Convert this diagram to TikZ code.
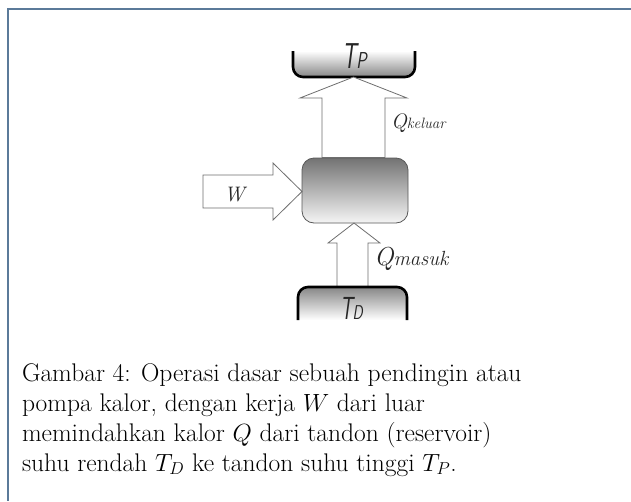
\documentclass[tikz,border=0pt]{standalone}
\usepackage{fontspec}
\definecolor{frameblue}{HTML}{5B7A99}
\definecolor{arrowgray}{HTML}{6E6E6E}
\newcommand{\lblfont}{\rmfamily\itshape}
\begin{document}
\begin{tikzpicture}[x=1pt,y=-1pt,
  frameline/.style={draw=frameblue,line width=1.6pt},
  blockarrow/.style={draw=arrowgray,fill=white,line width=0.8pt,line join=miter},
  reservoirline/.style={draw=black,line width=2.6pt},
  lbl/.style={inner sep=0pt,outer sep=0pt,anchor=base west,text=black!85},
  captext/.style={inner sep=0pt,outer sep=0pt,anchor=base west,font=\fontsize{25.5}{30}\selectfont},
  tlabel/.style={inner sep=0pt,outer sep=0pt,anchor=base west,font=\sffamily\itshape,text=black!85}
]
\useasboundingbox (0,0) rectangle (631,501);
% frame
\coordinate (fTL) at (8,9);
\coordinate (fTR) at (631,9);
\coordinate (fBL) at (8,501);
\draw[frameline] (fTR) -- (fTL) -- (fBL);

% top reservoir T_P
\shade[top color=white,bottom color=gray!95] (293,51) -- (293,67) arc[start angle=180,end angle=90,radius=10] -- (405,77) arc[start angle=90,end angle=0,radius=10] -- (415,51) -- cycle;
\draw[reservoirline] (293,51) -- (293,67) arc[start angle=180,end angle=90,radius=10] -- (405,77) arc[start angle=90,end angle=0,radius=10] -- (415,51);
\node[tlabel] (tp) at (342,68) {\scalebox{0.62}[1]{\fontsize{36}{36}\selectfont T}\scalebox{0.75}[1]{\fontsize{23}{23}\selectfont P}};

% compressor box
\node[draw=arrowgray!80!black,line width=0.8pt,rounded corners=12pt,minimum width=106pt,minimum height=65pt,inner sep=0pt,top color=gray!90!black,bottom color=gray!8] (box) at (355,190.5) {};

% upper arrow Q_keluar
\draw[blockarrow] (322,157.5) -- (322,98) -- (300,98) -- (353.5,77) -- (407,98) -- (385,98) -- (385,157.5) -- cycle;
\node[lbl] (qk) at (391,128) {{\lblfont\fontsize{21}{21}\selectfont Q}{\lblfont\fontsize{15}{15}\selectfont keluar}};

% W arrow
\draw[blockarrow] (203,175) -- (273,175) -- (273,163) -- (302,191.5) -- (273,220) -- (273,208) -- (203,208) -- cycle;
\node[lbl] (w) at (224,201) {\lblfont\fontsize{21}{21}\selectfont W};

% lower arrow Q_masuk
\draw[blockarrow] (337,287) -- (337,243) -- (328,243) -- (354,223) -- (380,243) -- (368,243) -- (368,287) -- cycle;
\node[lbl] (qm) at (374,265) {{\lblfont\fontsize{26}{26}\selectfont Q}{\lblfont\fontsize{20.5}{20.5}\selectfont masuk}};

% bottom reservoir T_D
\shade[top color=gray!95,bottom color=white] (298,320) -- (298,297) arc[start angle=180,end angle=270,radius=10] -- (397,287) arc[start angle=270,end angle=360,radius=10] -- (407,320) -- cycle;
\draw[reservoirline] (298,320) -- (298,297) arc[start angle=180,end angle=270,radius=10] -- (397,287) arc[start angle=270,end angle=360,radius=10] -- (407,320);
\node[tlabel] (td) at (340,319) {\scalebox{0.62}[1]{\fontsize{32}{32}\selectfont T}\scalebox{0.75}[1]{\fontsize{20}{20}\selectfont D}};

% caption
\node[captext] (c1) at (22,381) {Gambar 4: Operasi dasar sebuah pendingin atau};
\node[captext] (c2) at (22,411) {pompa kalor, dengan kerja $W$ dari luar};
\node[captext] (c3) at (22,441) {memindahkan kalor $Q$ dari tandon (reservoir)};
\node[captext] (c4) at (22,471) {suhu rendah $T_D$ ke tandon suhu tinggi $T_P$.};
\end{tikzpicture}
\end{document}
